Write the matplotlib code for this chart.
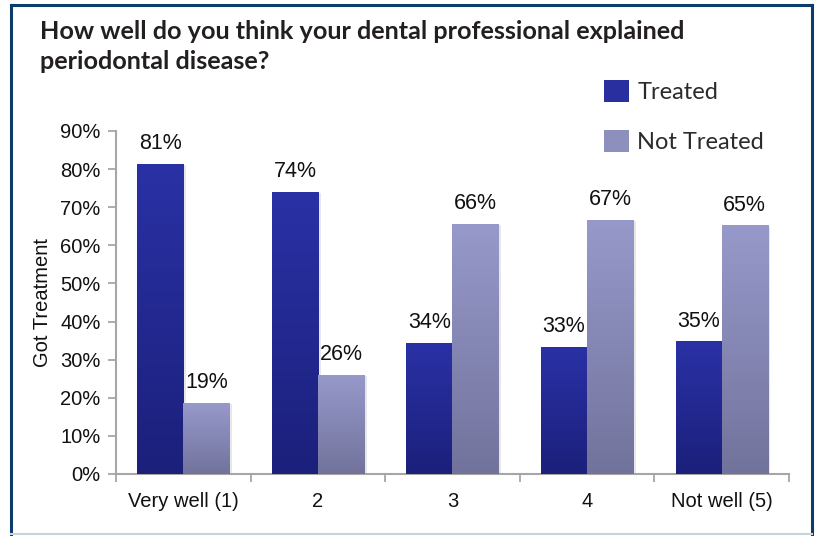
import numpy as np
import matplotlib
matplotlib.use("Agg")
import matplotlib.pyplot as plt
from matplotlib.colors import LinearSegmentedColormap
from matplotlib.patches import Patch
from matplotlib.lines import Line2D

# ==========================================
# DATA
# ==========================================

categories = ["Very well (1)", "2", "3", "4", "Not well (5)"]
treated = [81.4, 74.0, 34.4, 33.4, 34.8]
not_treated = [18.6, 26.0, 65.6, 66.6, 65.2]
y_ticks = [0, 10, 20, 30, 40, 50, 60, 70, 80, 90]

title = "How well do you think your dental professional explained\nperiodontal disease?"

# ==========================================
# STYLE
# ==========================================

plt.rcParams["font.family"] = ["Liberation Sans", "DejaVu Sans"]

treated_cmap = LinearSegmentedColormap.from_list("tr", ["#1b207b", "#2a31a5"])
not_cmap = LinearSegmentedColormap.from_list("nt", ["#72739c", "#9799ca"])

fig = plt.figure(figsize=(8.17, 5.36), dpi=100)
fig.patch.set_facecolor("white")

ax = fig.add_axes([0.142, 0.1157, 0.8237, 0.64])

x = np.arange(len(categories))
w = 0.342

bars_t = ax.bar(x - w / 2, treated, w, color="none", edgecolor="none", zorder=3)
bars_n = ax.bar(x + w / 2, not_treated, w, color="none", edgecolor="none", zorder=3)

grad = np.linspace(0, 1, 256).reshape(-1, 1)

for bars, cmap, vals in [(bars_t, treated_cmap, treated), (bars_n, not_cmap, not_treated)]:
    for b, v in zip(bars, vals):
        x0 = b.get_x()
        x1 = x0 + b.get_width()
        h = b.get_height()
        # soft shadow on the right side
        ax.fill_between([x1, x1 + 0.02], 0, h - 0.3, color="#d8d8d8", alpha=0.6, zorder=2, lw=0)
        im = ax.imshow(grad, extent=[x0, x1, 0, h], origin="lower", aspect="auto",
                       cmap=cmap, zorder=3)
        im.set_clip_path(b)
        ax.annotate(f"{v:.0f}%", (b.get_x() + b.get_width() / 2, h),
                    xytext=(0, 7), textcoords="offset points",
                    ha="center", va="bottom", fontsize=15.5, color="#111111")

ax.set_xlim(-0.5, len(categories) - 0.5)
ax.set_ylim(0, 90)

ax.set_yticks(y_ticks)
ax.set_yticklabels([f"{t}%" for t in y_ticks])

ax.set_xticks(x)
ax.set_xticklabels(categories)
ax.set_xticks(np.arange(len(categories) + 1) - 0.5, minor=True)

ax.tick_params(axis="x", which="major", length=0, pad=13, labelsize=14.5, colors="#111111")
ax.tick_params(axis="x", which="minor", length=6, width=1.3, color="#a6a6a6")
ax.tick_params(axis="y", length=6, width=1.3, color="#a6a6a6", labelsize=14.5,
               labelcolor="#111111", pad=5)

for s in ["top", "right"]:
    ax.spines[s].set_visible(False)
for s in ["left", "bottom"]:
    ax.spines[s].set_color("#a6a6a6")
    ax.spines[s].set_linewidth(1.5)

ax.set_ylabel("Got Treatment", fontsize=14.5, color="#111111", labelpad=6)

# ==========================================
# TITLE & LEGEND
# ==========================================

fig.text(40 / 817, 1 - 20 / 536, title, ha="left", va="top", fontsize=18.2,
         family="Lato", fontweight="bold", color="#231f20", linespacing=1.38)

handles = [Patch(facecolor="#2a2f9f", edgecolor="none"),
           Patch(facecolor="#8d8fbd", edgecolor="none")]
leg = fig.legend(handles, ["Treated", "Not Treated"], loc="upper left",
                 bbox_to_anchor=(583 / 817, 1 - 59 / 536), frameon=False,
                 prop={"family": "Lato", "size": 17},
                 handlelength=1.05, handleheight=1.05, handletextpad=0.35,
                 labelspacing=1.15)
for t in leg.get_texts():
    t.set_color("#2b2b2b")

# ==========================================
# FRAME
# ==========================================

navy = "#0d3b6e"
fig.add_artist(Line2D([11 / 817, 11 / 817], [1 - 534 / 536, 1 - 5 / 536], color=navy, lw=2.2))
fig.add_artist(Line2D([11 / 817, 812 / 817], [1 - 5 / 536, 1 - 5 / 536], color=navy, lw=2.2))
fig.add_artist(Line2D([812 / 817, 812 / 817], [1 - 534 / 536, 1 - 5 / 536], color=navy, lw=2.2))
fig.add_artist(Line2D([11 / 817, 812 / 817], [1 - 534 / 536, 1 - 534 / 536], color="#c9d3de", lw=1.5))

fig.savefig("out.png", dpi=100)
